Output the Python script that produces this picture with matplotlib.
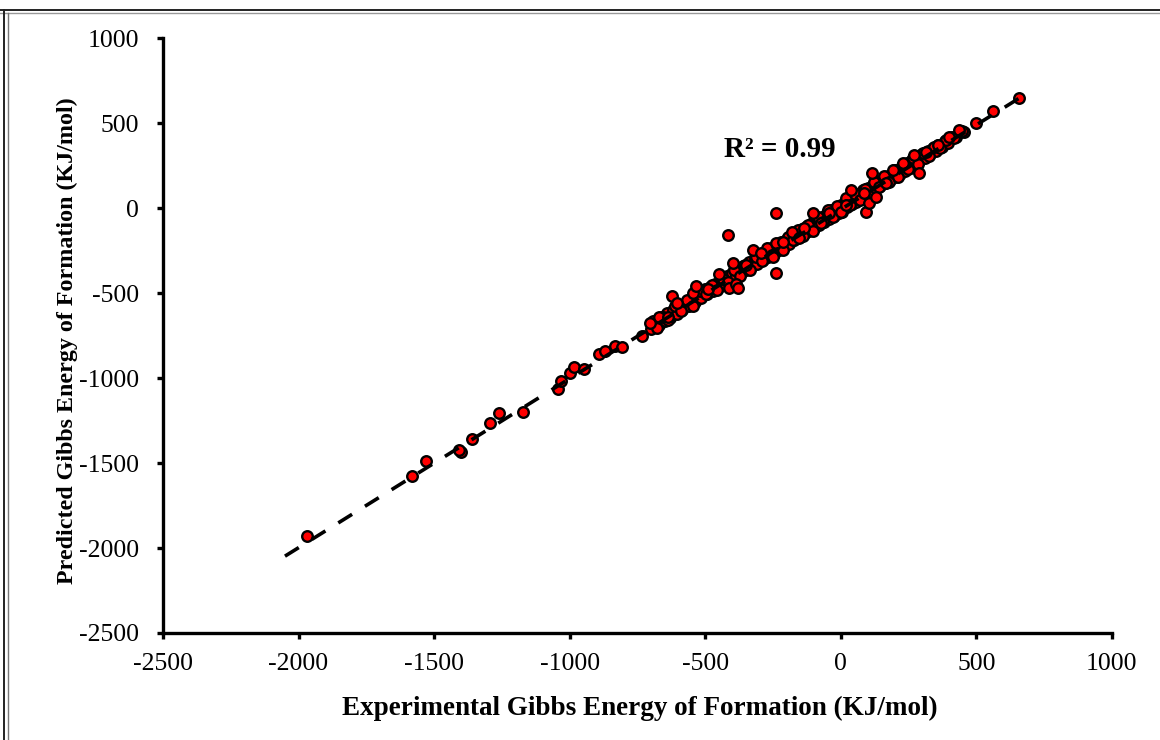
import matplotlib.pyplot as plt
from matplotlib.lines import Line2D

# Experimental vs predicted Gibbs energy of formation (kJ/mol)
exp_sparse = [-1967, -1580, -1531, -1401, -1409, -1361, -1293, -1262, -1173,
              -1042, -1031, -1000, -984, -948, -892, -868, -831, -806, -733,
              -705, -669, -638, -622, -604, -546, -534, -490, -448, -411,
              -399, -386, -380, -350, -322, -294, -249, -239, -214, -178,
              -153, -134, -104, -73, -42, 0, 19, 37, 92, 105, 87, 129, 166,
              117, 191, 228, 271, 289, 314, 357, 400, 437, 498, 560, 658]
pred_sparse = [-1929, -1576, -1488, -1435, -1424, -1361, -1263, -1204, -1198,
               -1067, -1016, -969, -937, -947, -859, -840, -810, -819, -751,
               -675, -640, -640, -516, -561, -502, -459, -478, -388, -472,
               -325, -447, -472, -335, -247, -266, -290, -207, -198, -139,
               -178, -119, -31, -90, -31, -21, 18, 106, -21, 28, 86, 67, 145,
               204, 224, 263, 312, 204, 331, 370, 420, 459, 498, 572, 645]

# outliers off the main band
exp_out = [-416, -237, -239]
pred_out = [-157, -31, -384]

exp_band = [-700, -688, -672, -660, -650, -641, -630, -618, -605, -596, -584,
            -570, -560, -549, -538, -525, -515, -502, -494, -483, -470, -462,
            -451, -440, -432, -421, -410, -401, -390, -379, -368, -360, -349,
            -338, -330, -318, -309, -297, -288, -279, -268, -259, -248, -240,
            -229, -220, -211, -200, -192, -181, -172, -163, -152, -143, -134,
            -125, -116, -106, -97, -88, -79, -70, -61, -52, -43, -35, -26,
            -17, -8, 0, 6, 14, 22, 31, 40, 48, 57, 66, 75, 83, 92, 101, 110,
            119, 128, 137, 146, 155, 164, 173, 182, 191, 200, 209, 218, 227,
            236, 245, 254, 263, 272, 281, 290, 300, 310, 320, 330, 340, 350,
            360, 372, 384, 396, 410, 424, 440, 455]
pred_band = [-712, -668, -690, -641, -662, -620, -645, -598, -622, -570, -601,
             -556, -575, -528, -552, -510, -532, -478, -507, -462, -489, -445,
             -470, -418, -450, -400, -428, -381, -409, -356, -385, -341, -366,
             -318, -349, -296, -327, -275, -306, -262, -287, -238, -270, -221,
             -246, -197, -232, -183, -212, -160, -190, -141, -171, -125, -155,
             -103, -137, -88, -116, -66, -99, -50, -80, -31, -62, -14, -45,
             2, -28, 16, -12, 33, 4, 50, 21, 66, 37, 85, 55, 104, 72, 118, 90,
             138, 108, 156, 128, 172, 146, 190, 163, 208, 182, 226, 200, 245,
             219, 262, 238, 280, 256, 298, 274, 316, 294, 333, 315, 352, 336,
             372, 360, 394, 384, 418, 415, 447, 450]

exp_band2 = [-694, -676, -655, -636, -612, -590, -566, -544, -520, -498, -476,
             -455, -436, -415, -395, -373, -352, -333, -313, -292, -272, -252,
             -233, -214, -195, -176, -158, -139, -120, -101, -83, -65, -48,
             -30, -12, 4, 18, 35, 52, 70, 88, 105, 123, 141, 159, 177, 195,
             213, 231, 249, 268, 286, 305, 325, 345, 366, 390, 418, 446]
pred_band2 = [-666, -706, -643, -658, -577, -605, -544, -577, -490, -508, -451,
              -483, -418, -435, -363, -398, -337, -363, -286, -310, -238, -276,
              -213, -244, -170, -190, -128, -165, -102, -133, -55, -81, -12,
              -52, 12, -26, 58, 17, 82, 45, 110, 71, 151, 126, 191, 155, 221,
              185, 251, 231, 292, 260, 323, 305, 360, 352, 400, 410, 452]

# linear trend line end points
trend_x = [-2050, 662]
trend_y = [-2048, 650]

x_ticks = [-2500, -2000, -1500, -1000, -500, 0, 500, 1000]
y_ticks = [-2500, -2000, -1500, -1000, -500, 0, 500, 1000]

plt.rcParams['font.family'] = ['Liberation Serif', 'DejaVu Serif']
plt.rcParams['axes.unicode_minus'] = False

fig = plt.figure(figsize=(11.6, 7.4), dpi=100)
ax = fig.add_axes([0.1405, 0.1446, 0.818, 0.804])

dot = dict(s=58, c='#ff0000', edgecolors='black', linewidths=1.7, zorder=3)
ax.scatter(exp_band, pred_band, **dot)
ax.scatter(exp_band2, pred_band2, **dot)
ax.scatter(exp_sparse, pred_sparse, **dot)
ax.scatter(exp_out, pred_out, **dot)
ax.plot(trend_x, trend_y, color='black', lw=2.6, dashes=(4.5, 4.2),
        zorder=4)

ax.set_xlim(-2500, 1000)
ax.set_ylim(-2500, 1000)
ax.set_xticks(x_ticks)
ax.set_yticks(y_ticks)

for side in ['top', 'right']:
    ax.spines[side].set_visible(False)
for side in ['left', 'bottom']:
    ax.spines[side].set_linewidth(2.4)
ax.tick_params(direction='out', length=4.5, width=2.4, labelsize=18.5)
ax.tick_params(axis='x', pad=10)
ax.tick_params(axis='y', pad=13)

ax.set_xlabel('Experimental Gibbs Energy of Formation (KJ/mol)',
              fontsize=19.5, fontweight='bold')
ax.set_ylabel('Predicted Gibbs Energy of Formation (KJ/mol)',
              fontsize=17.3, fontweight='bold')
ax.xaxis.set_label_coords(0.502, -0.106)
ax.yaxis.set_label_coords(-0.09, 0.492)

ax.text(0.591, 0.812, 'R\u00b2 = 0.99', transform=ax.transAxes,
        fontsize=21, fontweight='bold', ha='left', va='center')

# frame left over from the screenshot (top and left edges only)
fig.add_artist(Line2D([0, 1], [1 - 10 / 740, 1 - 10 / 740], color='#222222',
                      lw=1.4, transform=fig.transFigure))
fig.add_artist(Line2D([0, 1], [1 - 12.5 / 740, 1 - 12.5 / 740], color='#999999',
                      lw=1.0, transform=fig.transFigure))
fig.add_artist(Line2D([4 / 1160, 4 / 1160], [0, 1 - 10 / 740], color='#222222',
                      lw=1.4, transform=fig.transFigure))
fig.add_artist(Line2D([7.5 / 1160, 7.5 / 1160], [0, 1 - 12.5 / 740],
                      color='#777777', lw=1.0, transform=fig.transFigure))

fig.savefig('out.png', dpi=100)
